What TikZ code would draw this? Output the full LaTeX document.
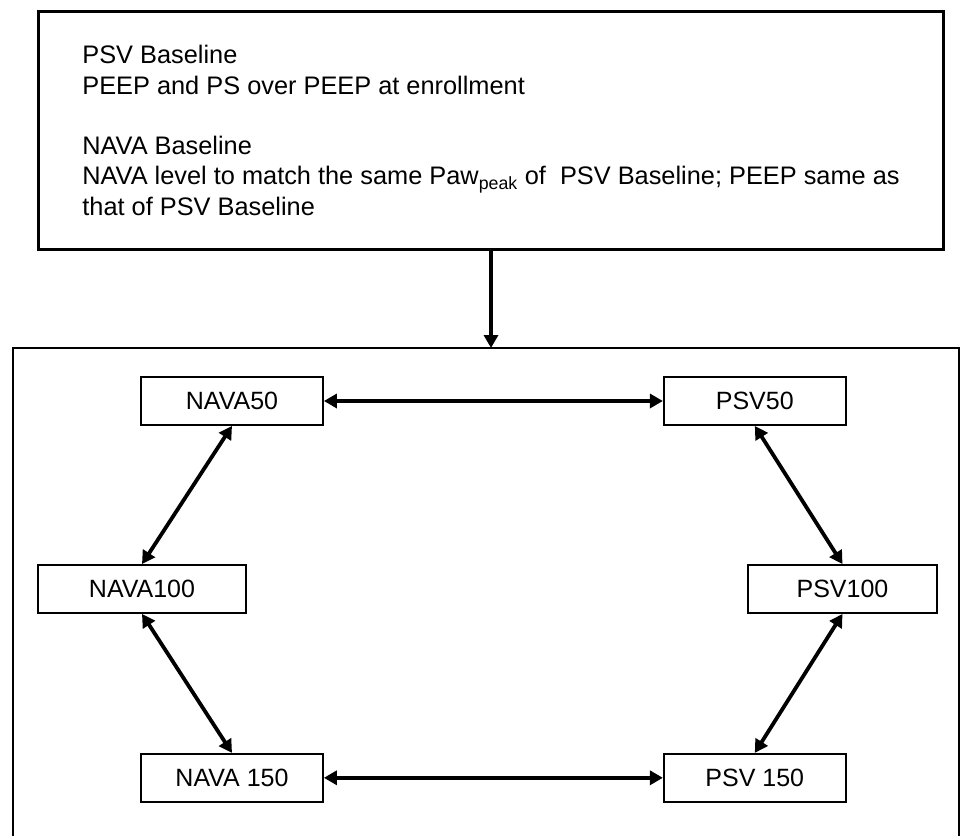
\documentclass[tikz,border=0pt]{standalone}
\usepackage{fontspec}
\setmainfont{Liberation Sans}
\usepackage{tikz}
\usetikzlibrary{positioning}
\usetikzlibrary{arrows.meta}

\begin{document}
\begin{tikzpicture}[x=1pt,y=-1pt]
	\tikzset{setting/.style={rectangle,draw,line width=1.8pt,inner sep=0pt,
			minimum width=182pt,minimum height=48pt,font=\fontsize{25}{29}\selectfont},
		link/.style={<->,line width=3.8pt}, >={Triangle[length=13pt,width=14pt]}}

\useasboundingbox (0,0) rectangle (960,835);

\node[draw,line width=2.8pt,anchor=north west,inner xsep=44pt,align=left,
	minimum height=238pt,font=\fontsize{25.35}{30.3}\selectfont] (setup) at (37,10)
	{PSV Baseline\\
	PEEP and PS over PEEP at enrollment\\[30.3pt]
	NAVA Baseline\\
	NAVA level to match the same Paw\textsubscript{peak} of\ \ PSV Baseline; PEEP same as\\
	that of PSV Baseline};

% frame round the six settings, open at the bottom
\coordinate (paneltop) at (setup.south |- 0,348);
\draw[line width=2.8pt] (13,845) |- (959,348) -- (959,845);

\draw[->,line width=3.3pt] (setup) -- (paneltop);

\node[setting] (nava50) at (232,401) {NAVA50};
\node[setting] (psv50) [right = 339pt of nava50] {PSV50};
\node[setting,minimum width=208pt] (nava100) at (142,589) {NAVA100};
\node[setting,minimum width=189pt] (psv100) at (842.5,589) {PSV100};
\node[setting] (nava150) [below = 327pt of nava50] {NAVA 150};
\node[setting] (psv150) [right = 339pt of nava150] {PSV 150};

\draw[link,line width=4.5pt] (nava50) -- (psv50);
\draw[link,line width=4.5pt] (nava150) -- (psv150);
\draw[link] (nava50.south) -- (nava100.north);
\draw[link] (nava100.south) -- (nava150.north);
\draw[link] (psv50.south) -- (psv100.north);
\draw[link] (psv100.south) -- (psv150.north);
\end{tikzpicture}
\end{document}
